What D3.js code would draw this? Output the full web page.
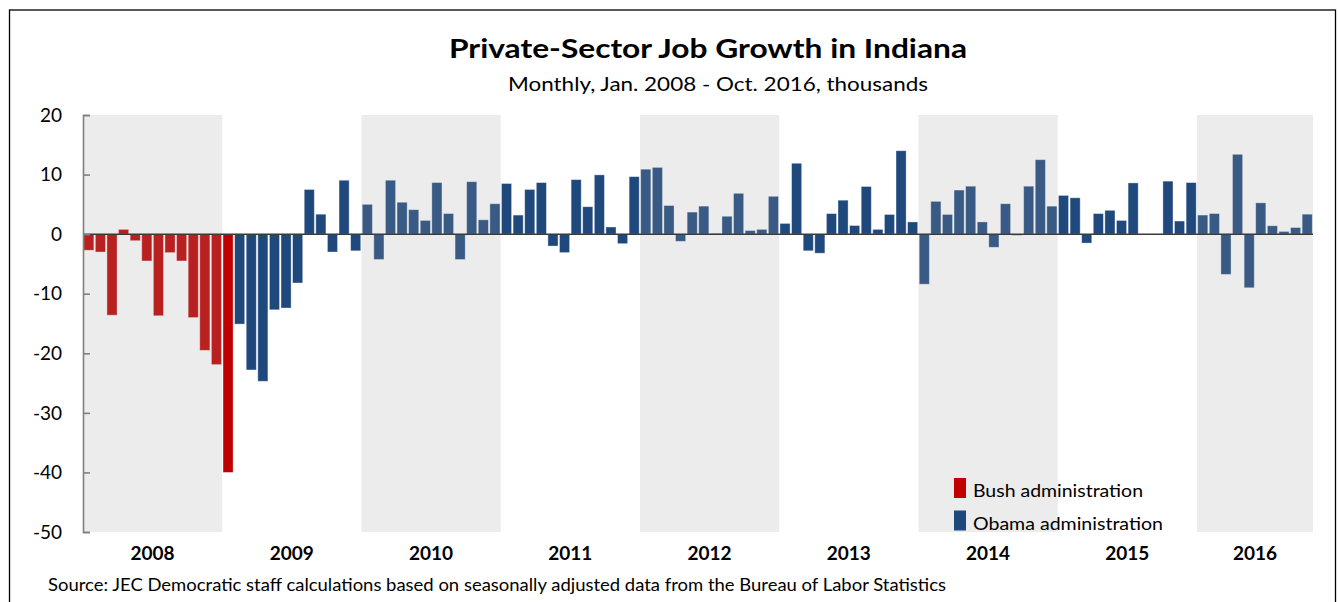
<!DOCTYPE html>
<html>
<head>
<meta charset="utf-8">
<script src="https://cdn.jsdelivr.net/npm/d3@7"></script>
<style>
body { margin: 0; background: #fff; }
text { font-family: Lato, 'Open Sans', sans-serif; fill: #000; }
</style>
</head>
<body>
<svg id="chart" width="1338" height="602"></svg>
<script>
// monthly change, thousands
var bushJobs = [ // Jan 2008 - Jan 2009
	-2.7, -3.0, -13.6, 0.8, -1.1, -4.5, -13.7, -3.1, -4.5, -14.0, -19.5, -21.9,
	-40.0
]
var obamaJobs = [ // Feb 2009 - Oct 2016
	-15.1, -22.8, -24.7, -12.7, -12.4, -8.2, 7.5, 3.35, -3.0, 9.05, -2.8,
	5.0, -4.25, 9.05, 5.35, 4.1, 2.3, 8.65, 3.45, -4.25, 8.8, 2.4, 5.1,
	8.5, 3.2, 7.5, 8.65, -2.0, -3.1, 9.15, 4.6, 9.95, 1.2, -1.6, 9.65,
	10.9, 11.2, 4.8, -1.2, 3.7, 4.7, 0.1, 3.0, 6.85, 0.6, 0.8, 6.35,
	1.8, 11.9, -2.8, -3.2, 3.45, 5.7, 1.45, 8.0, 0.8, 3.3, 14.0, 2.05,
	-8.4, 5.5, 3.3, 7.4, 8.05, 2.05, -2.2, 5.1, -0.2, 8.05, 12.5, 4.7,
	6.5, 6.1, -1.5, 3.45, 4.0, 2.3, 8.6, 0, 0, 8.9, 2.2, 8.65,
	3.2, 3.45, -6.75, 13.4, -9.0, 5.25, 1.4, 0.45, 1.1, 3.35
]
var years = ['2008', '2009', '2010', '2011', '2012', '2013', '2014', '2015', '2016']
var shadedYears = ['2008', '2010', '2012', '2014', '2016']
var yTicks = [20, 10, 0, -10, -20, -30, -40, -50]

var colors = {bush: '#c00000', obama: '#1f497d'}

var data = []
bushJobs.forEach(function(v) { data.push({admin: 'bush', value: v}) })
obamaJobs.forEach(function(v) { data.push({admin: 'obama', value: v}) })
data.forEach(function(d, i) {
	d.i = i
	d.year = years[Math.floor(i / 12)]
})

var plot = {left: 83, right: 1313, top: 115, bottom: 532}

var svg = d3.select('#chart')

// frame
svg.append('rect')
	.attr('x', 9.5).attr('y', 10)
	.attr('width', 1326).attr('height', 620)
	.attr('fill', 'none')
	.attr('stroke', '#000')
	.attr('stroke-width', 1.3)

var x = d3.scaleBand()
	.domain(data.map(d => d.i))
	.range([plot.left, plot.right])
	.paddingInner(0.13)
	.paddingOuter(0.065)

var step = (plot.right - plot.left) / data.length

var y = d3.scaleLinear()
	.domain([-50, 20])
	.range([plot.bottom, plot.top])

// bars
svg.append('g').selectAll('rect')
	.data(data)
	.enter().append('rect')
		.attr('x', d => x(d.i))
		.attr('width', x.bandwidth())
		.attr('y', d => y(Math.max(0, d.value)))
		.attr('height', d => Math.abs(y(d.value) - y(0)))
		.attr('fill', d => colors[d.admin])
		.attr('stroke', 'rgba(255,255,255,0.45)')
		.attr('stroke-width', 0.8)

// alternating year shading, laid over the bars
svg.append('g').selectAll('rect')
	.data(shadedYears)
	.enter().append('rect')
		.attr('x', function(yr) { return plot.left + years.indexOf(yr) * 12 * step })
		.attr('width', function(yr) {
			var n = data.filter(d => d.year == yr).length
			return n * step
		})
		.attr('y', plot.top)
		.attr('height', plot.bottom - plot.top)
		.attr('fill', '#a2a2a2')
		.attr('fill-opacity', 0.2)

// zero line
svg.append('line')
	.attr('x1', plot.left).attr('x2', plot.right)
	.attr('y1', y(0)).attr('y2', y(0))
	.attr('stroke', '#3a3a3a')
	.attr('stroke-width', 1.5)

// y axis
var yAxis = svg.append('g')
	.attr('transform', 'translate(' + plot.left + ',0)')
	.call(d3.axisRight(y).tickValues(yTicks).tickSize(7).tickFormat(''))
yAxis.select('.domain').attr('stroke', '#7f7f7f').attr('stroke-width', 1.6)
yAxis.selectAll('.tick line').attr('stroke', '#7f7f7f').attr('stroke-width', 1.6)

svg.append('g').selectAll('text')
	.data(yTicks)
	.enter().append('text')
		.attr('x', 62)
		.attr('y', d => y(d))
		.attr('dy', '0.35em')
		.attr('text-anchor', 'end')
		.style('font-size', '19px')
		.text(d => d)

// year labels
svg.append('g').selectAll('text')
	.data(years)
	.enter().append('text')
		.attr('x', function(yr) {
			var n = data.filter(d => d.year == yr).length
			return plot.left + (years.indexOf(yr) * 12 + n / 2) * step
		})
		.attr('y', 560)
		.attr('text-anchor', 'middle')
		.style('font-size', '19px')
		.style('font-weight', 'bold')
		.text(d => d)

// titles
svg.append('text')
	.attr('x', 708).attr('y', 58)
	.attr('text-anchor', 'middle')
	.attr('textLength', 518)
	.attr('lengthAdjust', 'spacingAndGlyphs')
	.style('font-size', '27px')
	.style('font-weight', 'bold')
	.text('Private-Sector Job Growth in Indiana')

svg.append('text')
	.attr('x', 718).attr('y', 91)
	.attr('text-anchor', 'middle')
	.attr('textLength', 420)
	.attr('lengthAdjust', 'spacingAndGlyphs')
	.style('font-size', '20px')
	.text('Monthly, Jan. 2008 - Oct. 2016, thousands')

svg.append('text')
	.attr('x', 48).attr('y', 591)
	.attr('textLength', 898)
	.attr('lengthAdjust', 'spacingAndGlyphs')
	.style('font-size', '17px')
	.text('Source: JEC Democratic staff calculations based on seasonally adjusted data from the Bureau of Labor Statistics')

// legend
var legendItems = [
	{label: 'Bush administration', color: colors.bush, w: 170},
	{label: 'Obama administration', color: colors.obama, w: 190}
]
var legend = svg.append('g').selectAll('g')
	.data(legendItems)
	.enter().append('g')
		.attr('transform', (d, i) => 'translate(954,' + (478 + i * 32.5) + ')')
legend.append('rect')
	.attr('width', 12).attr('height', 20)
	.attr('fill', d => d.color)
legend.append('text')
	.attr('x', 19).attr('y', 19)
	.attr('textLength', d => d.w)
	.attr('lengthAdjust', 'spacingAndGlyphs')
	.style('font-size', '18px')
	.text(d => d.label)
</script>
</body>
</html>
